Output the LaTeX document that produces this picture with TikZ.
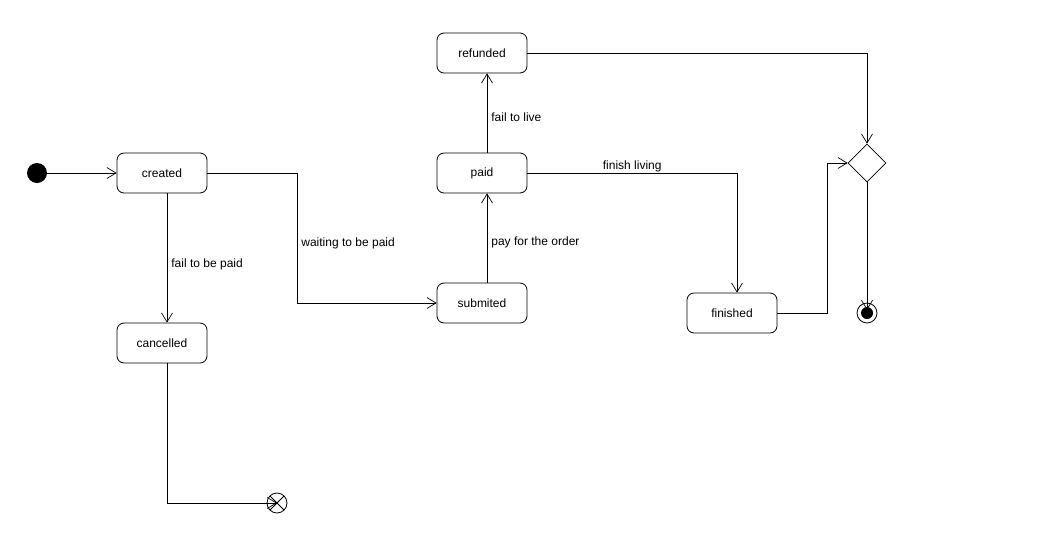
\documentclass[tikz,border=0pt]{standalone}
\usepackage{fontspec}
\setmainfont{Liberation Sans}
\usetikzlibrary{arrows.meta,shapes.geometric,calc}
\begin{document}
\begin{tikzpicture}[x=1pt,y=-1pt,
  state/.style={draw,rounded corners=7pt,minimum width=90pt,minimum height=40pt,inner sep=0pt,font=\fontsize{12}{14}\selectfont,line width=0.8pt},
  lbl/.style={font=\fontsize{12}{14}\selectfont,inner sep=0pt},
  flow/.style={line width=0.8pt,-{Straight Barb[length=9pt,width=11pt,line width=0.7pt]}},
  ]
\useasboundingbox (0,0) rectangle (1050,550);
\node[circle,fill=black,minimum size=20pt,inner sep=0pt] (init) at (37,173) {};
\node[state] (created) at (162,173) {created};
\node[state] (cancelled) at (162,343) {cancelled};
\node[state] (submited) at (482,303) {submited};
\node[state] (paid) at (482,173) {paid};
\node[state] (refunded) at (482,53) {refunded};
\node[state] (finished) at (732,313) {finished};
\node[diamond,draw,line width=0.8pt,minimum width=38pt,minimum height=38pt,inner sep=0pt] (dec) at (867,163) {};
\node[circle,draw,line width=0.8pt,minimum size=20pt,inner sep=0pt] (final) at (867,313) {};
\node[circle,fill=black,minimum size=12pt,inner sep=0pt] (finalin) at (867,313) {};
\node[circle,draw,line width=0.8pt,minimum size=20pt,inner sep=0pt] (ff) at (277,503) {};
\draw[line width=0.8pt] ($(ff.center)+(-7,-7)$) -- ($(ff.center)+(7,7)$);
\draw[line width=0.8pt] ($(ff.center)+(-7,7)$) -- ($(ff.center)+(7,-7)$);
\coordinate (c1) at (297,173);
\coordinate (c2) at (297,303);
\coordinate (c3) at (737,173);
\coordinate (c4) at (867,53);
\coordinate (c5) at (827,313);
\coordinate (c6) at (827,163);
\coordinate (c7) at (167,503);

\draw[flow] (init) -- (created);
\draw[flow] ([xshift=5pt]created.south) -- node[lbl,right=4pt,pos=0.55]{fail to be paid} ([xshift=5pt]cancelled.north);
\draw[flow] (created.east) -- (c1) -- node[lbl,right=4pt,pos=0.54]{waiting to be paid} (c2) -- (submited.west);
\draw[flow] ([xshift=5pt]submited.north) -- node[lbl,right=4pt,pos=0.45]{pay for the order} ([xshift=5pt]paid.south);
\draw[flow] ([xshift=5pt]paid.north) -- node[lbl,right=4pt,pos=0.45]{fail to live} ([xshift=5pt]refunded.south);
\draw[flow] (paid.east) -- node[lbl,above=1pt,pos=0.5]{finish living} (c3) -- ([xshift=5pt]finished.north);
\draw[flow] (refunded.east) -- (c4) -- (dec.north);
\draw[flow] (finished.east) -- (c5) -- (c6) -- (dec.west);
\draw[flow] (dec.south) -- ($(final.center)+(0,-3)$);
\draw[flow] (cancelled.south -| c7) -- (c7) -- (ff.center);
\end{tikzpicture}
\end{document}
